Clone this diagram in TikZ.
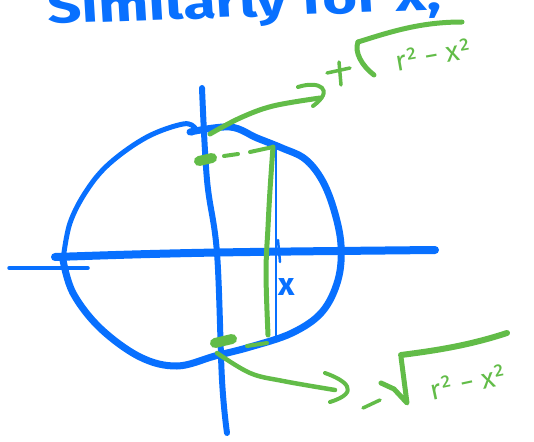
\documentclass[tikz,border=0pt]{standalone}
\usepackage{fontspec}
\setmainfont{Fira Sans}
\definecolor{pen}{RGB}{8,112,255}
\definecolor{gpen}{RGB}{98,188,72}
\tikzset{
  bluepen/.style={draw=pen,line cap=round,line join=round},
  greenpen/.style={draw=gpen,line cap=round,line join=round},
  greentext/.style={text=gpen,inner sep=0pt,font=\fontsize{28}{30}\selectfont},
}
\begin{document}
\begin{tikzpicture}[x=1pt,y=-1pt]
\useasboundingbox (0,0) rectangle (534,441);
% title
\node[anchor=base west,text=pen,inner sep=0pt,font=\fontsize{46}{50}\selectfont\bfseries,xscale=1.3,rotate=2.7] (title) at (48,24) {Similarly for x,};
% axes
\draw[bluepen,line width=3.5] (9,268) -- (88,268);
\draw[bluepen,line width=8] plot[smooth,tension=0.6] coordinates {(55,257) (150,254) (250,252) (435,250)};
\draw[bluepen,line width=6] plot[smooth,tension=0.6] coordinates {(202,88) (207,180) (217,253) (222,380) (227,433)};
% circle
\draw[bluepen,line width=7] plot[smooth,tension=0.6] coordinates {(190,132) (230,127) (257,138) (282,148) (305,159) (322,180) (334,210) (341,245) (338,280) (322,312) (292,333) (250,347) (215,356) (177,366) (140,357) (100,328) (73,293) (63,260)};
\draw[bluepen,line width=5] plot[smooth,tension=0.6] coordinates {(63,260) (70,223) (87,190) (110,163) (147,137) (183,124) (195,128) (192,133)};
% x tick and thin vertical
\draw[bluepen,line width=2.5] (276,145) -- (276,337);
\draw[bluepen,line width=2.5] (278,240) -- (280,262);
\node[text=pen,inner sep=0pt,font=\fontsize{32}{34}\selectfont\bfseries] (xlab) at (287,287) {x};
% green vertical segment
\draw[greenpen,line width=5] plot[smooth,tension=0.6] coordinates {(273,147) (270,190) (268,227) (266,273) (268,335)};
% top dashed
\draw[greenpen,line width=10] (199,161) -- (212,158);
\draw[greenpen,line width=4] (224,156) -- (238,154);
\draw[greenpen,line width=4] (250,152) -- (273,147);
% bottom dashed
\draw[greenpen,line width=10] (215,343) -- (232,339);
\draw[greenpen,line width=4] (247,346) -- (267,343);
% top arrow
\draw[greenpen,line width=5] plot[smooth,tension=0.6] coordinates {(210,134) (240,118) (273,106) (320,98)};
\draw[greenpen,line width=4] (298,87) .. controls (320,80) and (335,90) .. (313,106);
% top: + sqrt
\draw[greenpen,line width=3.5] (327,73) -- (350,68);
\draw[greenpen,line width=3.5] (339,62) -- (341,85);
\draw[greenpen,line width=5] (374,75) .. controls (362,66) and (354,52) .. (358,42);
\draw[greenpen,line width=5] (358,42) .. controls (390,32) and (420,22) .. (462,22);
\node[greentext,rotate=10] (topr) at (433,55) {r² − x²};
% bottom arrow
\draw[greenpen,line width=4.5] plot[smooth,tension=0.6] coordinates {(217,353) (250,373) (283,381) (335,390)};
\draw[greenpen,line width=4] (325,373) .. controls (345,380) and (362,392) .. (330,402);
% bottom: - sqrt
\draw[greenpen,line width=3.5] (363,408) -- (380,400);
\draw[greenpen,line width=5] (381,383) -- (394,389) -- (407,403) -- (401,357);
\draw[greenpen,line width=6] (401,355) .. controls (440,350) and (470,345) .. (507,333);
\node[greentext,rotate=12] (botr) at (468,382) {r² − x²};
\end{tikzpicture}
\end{document}
